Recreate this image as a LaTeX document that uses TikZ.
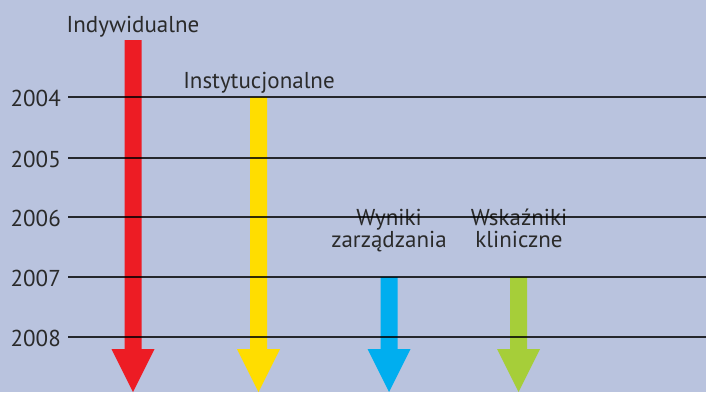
\documentclass[tikz,border=0pt]{standalone}
\usepackage{fontspec}
\setmainfont{PT Sans}
\definecolor{bgc}{HTML}{B9C3DE}
\definecolor{txt}{HTML}{2A2A2A}
\definecolor{ared}{HTML}{ED1C24}
\definecolor{ayel}{HTML}{FFDD00}
\definecolor{ablu}{HTML}{00AEEF}
\definecolor{agrn}{HTML}{A6CE39}
\tikzset{
  lbl/.style={text=txt, font=\fontsize{23}{22}\selectfont, inner sep=0pt, align=center},
  yearlbl/.style={text=txt, font=\fontsize{23}{22}\selectfont, inner sep=0pt, anchor=base east},
  yline/.style={draw=black, opacity=0.8, line width=2pt},
}
\newcommand{\downarrowshape}[4]{% x center, top y, color
  \fill[#3] (#1-8.5,#2) -- (#1+8.5,#2) -- (#1+8.5,349) -- (#1+21.5,349) -- (#1,392) -- (#1-21.5,349) -- (#1-8.5,349) -- cycle;
}
\begin{document}
\begin{tikzpicture}[x=1pt,y=-1pt]
\fill[bgc] (0,0) rectangle (706,392);
\useasboundingbox (0,0) rectangle (706,392);
% arrows
\fill[ared] (124.5,40) -- (141.5,40) -- (141.5,349) -- (154.5,349) -- (133,392) -- (111.5,349) -- (124.5,349) -- cycle;
\fill[ayel] (250,97) -- (267,97) -- (267,349) -- (280,349) -- (258.5,392) -- (237,349) -- (250,349) -- cycle;
\fill[ablu] (380.5,277) -- (397.5,277) -- (397.5,349) -- (410.5,349) -- (389,392) -- (367.5,349) -- (380.5,349) -- cycle;
\fill[agrn] (510,277) -- (527,277) -- (527,349) -- (540,349) -- (518.5,392) -- (497,349) -- (510,349) -- cycle;
% labels
\node[lbl, anchor=base] (ind) at (133,32) {Indywidualne};
\node[lbl, anchor=base] (ins) at (259,88) {Instytucjonalne};
\node[lbl, anchor=base] (wyn) at (389,247) {Wyniki\\zarządzania};
\node[lbl, anchor=base] (wsk) at (519,247) {Wskaźniki\\kliniczne};
% year lines
\foreach \yr/\yy in {2004/97,2005/158,2006/217,2007/277,2008/337}{
  \node[yearlbl] (y\yr) at (61,\yy+9) {\yr};
  \coordinate (s\yr) at (68,\yy);
  \coordinate (e\yr) at (706,\yy);
  \draw[yline] (s\yr) -- (e\yr);
}
\end{tikzpicture}
\end{document}
